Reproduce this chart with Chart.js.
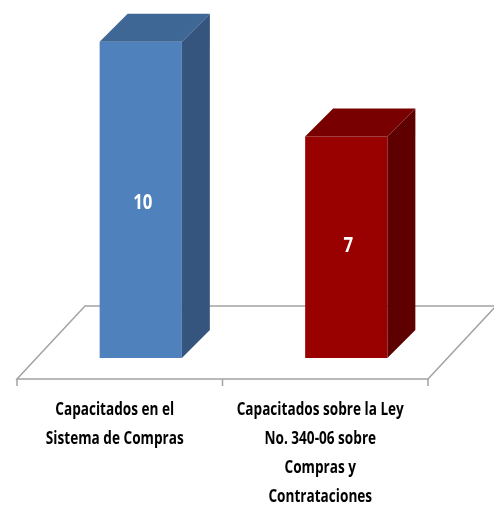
<!DOCTYPE html>
<html>
<head>
<meta charset="utf-8">
<script src="https://cdn.jsdelivr.net/npm/chart.js@4/dist/chart.umd.min.js"></script>
<style>
  html, body { margin: 0; padding: 0; background: #fff; }
  #wrap { width: 494px; height: 506px; position: relative; }
</style>
</head>
<body>
<div id="wrap"><canvas id="barChart3d"></canvas></div>
<script>
// data
const categories = [
    ['Capacitados en el', 'Sistema de Compras'],
    ['Capacitados sobre la Ley', 'No. 340-06 sobre', 'Compras y', 'Contrataciones']
];
const capacitados = [10, 7];

// colours per bar: front, side, top
const frontColors = ['#4F81BD', '#990000'];
const sideColors = ['#35557E', '#5E0000'];
const topColors = ['#3E6796', '#780000'];

const labelFont = 'bold 17px "Open Sans", "DejaVu Sans", sans-serif';
const valueFont = 'bold 21px "Open Sans", "DejaVu Sans", sans-serif';
const squeeze = 0.8; // text in the original is narrow and tall

// 3d look: bar depth and floor
const barDepth = 28;
const floorFront = 21;   // floor front edge is in front of the bars
const floorBack = { dx: 47, dy: 52 };

function narrowText(ctx, txt, x, y) {
    ctx.save();
    ctx.translate(x, y);
    ctx.scale(squeeze, 1);
    ctx.fillText(txt, 0, 0);
    ctx.restore();
}

const floorPlugin = {
    id: 'floor3d',
    beforeDatasetsDraw(chart) {
        const ctx = chart.ctx;
        const area = chart.chartArea;
        const xs = chart.scales.x;
        const y0 = chart.scales.y.getPixelForValue(0);
        const fl = { x1: area.left - floorFront, x2: area.right - floorFront, y: y0 + floorFront };
        const bk = { x1: area.left + floorBack.dx, x2: area.right + floorBack.dx, y: y0 - floorBack.dy };
        ctx.save();
        ctx.strokeStyle = '#A3A3A3';
        ctx.lineWidth = 1.5;
        ctx.beginPath();
        ctx.moveTo(fl.x1, fl.y);
        ctx.lineTo(fl.x2, fl.y);
        ctx.lineTo(bk.x2, bk.y);
        ctx.lineTo(bk.x1, bk.y);
        ctx.closePath();
        ctx.stroke();
        // tick marks on the front edge
        const n = xs.ticks.length;
        const step = (fl.x2 - fl.x1) / n;
        ctx.beginPath();
        for (let i = 0; i <= n; i++) {
            const tx = fl.x1 + i * step;
            ctx.moveTo(tx, fl.y);
            ctx.lineTo(tx, fl.y + 7);
        }
        ctx.stroke();
        ctx.restore();
    },
    afterDatasetsDraw(chart) {
        const ctx = chart.ctx;
        const meta = chart.getDatasetMeta(0);
        const y0 = chart.scales.y.getPixelForValue(0);
        ctx.save();
        meta.data.forEach((bar, i) => {
            const l = bar.x - bar.width / 2;
            const r = bar.x + bar.width / 2;
            const t = bar.y;
            const b = bar.base;
            const d = barDepth;
            // side
            ctx.fillStyle = sideColors[i];
            ctx.beginPath();
            ctx.moveTo(r, b);
            ctx.lineTo(r, t);
            ctx.lineTo(r + d, t - d);
            ctx.lineTo(r + d, b - d);
            ctx.closePath();
            ctx.fill();
            // top
            ctx.fillStyle = topColors[i];
            ctx.beginPath();
            ctx.moveTo(l, t);
            ctx.lineTo(l + d, t - d);
            ctx.lineTo(r + d, t - d);
            ctx.lineTo(r, t);
            ctx.closePath();
            ctx.fill();
            // value label
            ctx.fillStyle = '#FFFFFF';
            ctx.font = valueFont;
            ctx.textAlign = 'center';
            ctx.textBaseline = 'middle';
            narrowText(ctx, String(capacitados[i]), bar.x + 2, (t + b) / 2 - 4 * i + 3);
        });
        // category labels under the floor front edge
        const fy = y0 + floorFront;
        ctx.fillStyle = '#000000';
        ctx.font = labelFont;
        ctx.textAlign = 'center';
        ctx.textBaseline = 'middle';
        meta.data.forEach((bar, i) => {
            const cx = bar.x - floorFront - 5;
            categories[i].forEach((line, k) => {
                narrowText(ctx, line, cx, fy + 31 + k * 29);
            });
        });
        ctx.restore();
    }
};

new Chart(document.getElementById('barChart3d'), {
    type: 'bar',
    data: {
        labels: categories,
        datasets: [{
            data: capacitados,
            backgroundColor: frontColors,
            borderWidth: 0,
            barPercentage: 0.4,
            categoryPercentage: 1.0
        }]
    },
    options: {
        responsive: true,
        maintainAspectRatio: false,
        animation: false,
        layout: { padding: { left: 38, right: 45, top: 10, bottom: 148 } },
        plugins: { legend: { display: false }, tooltip: { enabled: false } },
        scales: {
            x: { display: false },
            y: { display: false, min: 0, max: 11 }
        }
    },
    plugins: [floorPlugin]
});
</script>
</body>
</html>
